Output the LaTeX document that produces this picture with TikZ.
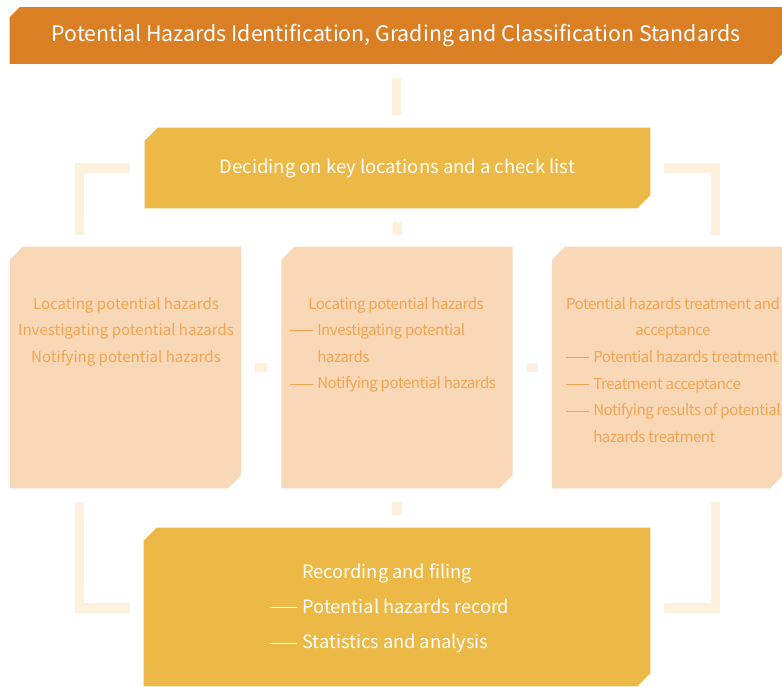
\documentclass[tikz,border=0pt]{standalone}
\usepackage{fontspec}
\setmainfont{Noto Sans CJK SC}
\usetikzlibrary{positioning, calc, backgrounds}

\definecolor{titleorange}{HTML}{DB7F24}
\definecolor{keygold}{HTML}{ECB846}
\definecolor{stepfill}{HTML}{F8D8B6}
\definecolor{steptext}{HTML}{F2A452}
\definecolor{linkcream}{HTML}{FDF0DC}

\newcommand{\stepdash}{\rule[0.3em]{17.25pt}{0.6pt}\hspace{3pt}}
\newcommand{\stepindent}{\hspace*{20.25pt}}
\newcommand{\recdash}{\rule[0.3em]{20.25pt}{0.6pt}\hspace{3.75pt}}
\newcommand{\recindent}{\hspace*{24pt}}
% fill a node's box with the top left and bottom right corners cut off
\newcommand{\cutfill}[3]{%
  \fill[#2] ($(#1.north west)+(0,#3)$) -- ($(#1.north west)+(#3,0)$) -- (#1.north east)
    -- ($(#1.south east)+(0,-#3)$) -- ($(#1.south east)+(-#3,0)$) -- (#1.south west) -- cycle;}

\tikzset{
  cutbox/.style={rectangle, inner sep=0pt, draw=none},
  stepbox/.style={cutbox, minimum width=173pt, minimum height=180.75pt},
  steplabel/.style={text=steptext, inner sep=0pt, font=\fontsize{11.3}{19.9}\selectfont},
  tightlabel/.style={steplabel, font=\fontsize{11.3}{19.9}\selectfont\addfontfeature{LetterSpace=-3}},
  link/.style={draw=linkcream, line width=7pt}
}

\begin{document}
\begin{tikzpicture}[x=0.75pt, y=-0.75pt]
\useasboundingbox (0,0) rectangle (782,686);

% Title bar
\node[cutbox, text=white, minimum width=579pt, minimum height=42pt,
  font=\fontsize{16}{20}\selectfont] (title) at (396,35.5)
  {Potential Hazards Identification, Grading and Classification Standards};

% Key locations
\node[cutbox, text=white, minimum width=378.75pt, minimum height=60pt,
  font=\fontsize{13.85}{17}\selectfont] (decide) at (397.5,168)
  {Deciding on key locations and a check list};

% Three steps
\node[stepbox] (locate) at (125.5,367.5) {};
\node[stepbox] (inspect) at (397,367.5) {};
\node[stepbox] (treat) at (667.5,367.5) {};

\node[steplabel, align=center, anchor=north] (locatetext) at (126,297)
  {Locating potential hazards\\Investigating potential hazards\\Notifying potential hazards};

\node[tightlabel, align=center, anchor=north] (inspecthead) at (396,297)
  {Locating potential hazards};
\node[tightlabel, align=left, anchor=north west] (inspectlist) at (290,323.5)
  {\stepdash Investigating potential\\\stepindent hazards\\\stepdash Notifying potential hazards};

\node[tightlabel, align=center, anchor=north] (treathead) at (673,297)
  {Potential hazards treatment and\\acceptance};
\node[tightlabel, align=left, anchor=north west] (treatlist) at (566,350.5)
  {\stepdash Potential hazards treatment\\\stepdash Treatment acceptance\\
   \stepdash Notifying results of potential\\\stepindent hazards treatment};

% Recording
\node[cutbox, minimum width=379.5pt, minimum height=118.5pt] (record) at (397,607) {};
\node[text=white, inner sep=0pt, align=left, anchor=north west,
  font=\fontsize{13.7}{26.6}\selectfont] (recordtext) at (270,563)
  {\recindent Recording and filing\\\recdash Potential hazards record\\\recdash Statistics and analysis};

\begin{scope}[on background layer]
  \cutfill{title}{titleorange}{10}
  \cutfill{decide}{keygold}{13}
  \cutfill{locate}{stepfill}{13}
  \cutfill{inspect}{stepfill}{13}
  \cutfill{treat}{stepfill}{13}
  \cutfill{record}{keygold}{13}
\end{scope}

% Links
\draw[link] ($(title.south)+(0.5,14)$) -- ($(decide.north)+(-1,-13)$);
\draw[link] ($(decide.south)+(0,14)$) -- ($(inspect.north)+(0,-12)$);
\draw[link] ($(decide.west)+(-15,0)$) -| ($(locate.north)+(-46,-12)$);
\draw[link] ($(decide.east)+(14,0)$) -| ($(treat.north)+(48,-12)$);
\draw[link] ($(locate.east)+(14,0)$) -- ($(inspect.west)+(-14,0)$);
\draw[link] ($(inspect.east)+(14,0)$) -- ($(treat.west)+(-14,0)$);
\draw[link] ($(inspect.south)+(0,14)$) -- ($(record.north)+(0,-13)$);
\draw[link] ($(locate.south)+(-46,14)$) |- ($(record.west)+(-14,1)$);
\draw[link] ($(treat.south)+(48,14)$) |- ($(record.east)+(14,1)$);
\end{tikzpicture}
\end{document}
